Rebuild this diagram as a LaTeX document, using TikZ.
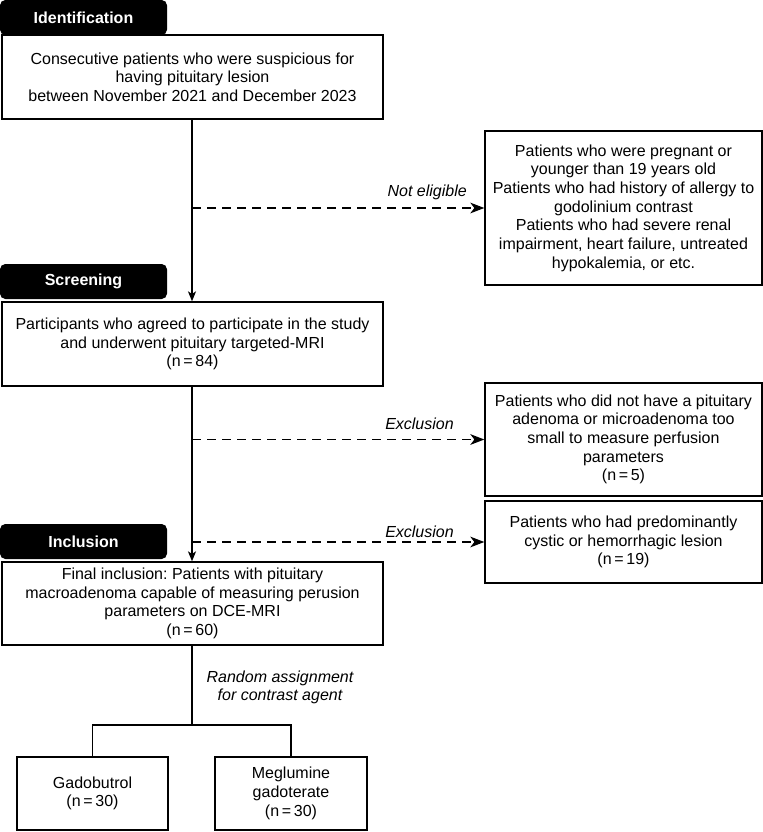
\documentclass[tikz,border=0pt]{standalone}
\usepackage{fontspec}
\setmainfont{Liberation Sans}
\frenchspacing
\usetikzlibrary{arrows.meta}
\tikzset{
  x=0.75pt, y=-0.75pt,
  every node/.style={font=\fontsize{12}{14}\selectfont, text=black},
  box/.style={draw=black, line width=1pt, fill=white, align=center, inner sep=0pt},
  tab/.style={fill=black, rounded corners=4pt, text=white, font=\fontsize{12}{14}\selectfont\bfseries, inner sep=0pt, minimum width=125.25pt, minimum height=26.25pt},
  flow/.style={line width=1pt, -{Stealth[length=7.5pt, width=6pt, inset=2pt]}},
  excl/.style={line width=1pt, dash pattern=on 6.75pt off 4.5pt, -{Stealth[length=10.5pt, width=8pt, inset=3pt]}},
  plain/.style={line width=1pt},
  lbl/.style={font=\fontsize{12}{14}\selectfont\itshape, inner sep=0pt}
}
\begin{document}
\begin{tikzpicture}
\useasboundingbox (0,0) rectangle (763,832);
% tabs
\node[tab] (t1) at (83.5,17.5) {Identification};
\node[tab] (t2) at (83.5,281.5) {Screening};
\node[tab] (t3) at (83.5,541.5) {Inclusion};
% main boxes
\node[box, minimum width=285.75pt, minimum height=63pt] (b1) at (192.5,77)
  {Consecutive patients who were suspicious for\\having pituitary lesion\\between November 2021 and December 2023};
\node[box, minimum width=285.75pt, minimum height=63pt] (b2) at (192.5,344)
  {Participants who agreed to participate in the study\\and underwent pituitary targeted-MRI\\(n\,=\,84)};
\node[box, minimum width=285.75pt, minimum height=62.25pt] (b3) at (192.5,603.5)
  {Final inclusion: Patients with pituitary\\macroadenoma capable of measuring perusion\\parameters on DCE-MRI\\(n\,=\,60)};
% right boxes
\node[box, minimum width=207.75pt, minimum height=115.5pt] (r1) at (623.5,208)
  {Patients who were pregnant or\\younger than 19 years old\\Patients who had history of allergy to\\godolinium contrast\\Patients who had severe renal\\impairment, heart failure, untreated\\hypokalemia, or etc.};
\node[box, minimum width=207.75pt, minimum height=84.75pt] (r2) at (623.5,439.5)
  {Patients who did not have a pituitary\\adenoma or microadenoma too\\small to measure perfusion\\parameters\\(n\,=\,5)};
\node[box, minimum width=207.75pt, minimum height=61.5pt] (r3) at (623.5,542)
  {Patients who had predominantly\\cystic or hemorrhagic lesion\\(n\,=\,19)};
% bottom boxes
\node[box, minimum width=113.25pt, minimum height=54.75pt] (g1) at (92.5,793.5)
  {Gadobutrol\\(n\,=\,30)};
\node[box, minimum width=114pt, minimum height=54.75pt] (g2) at (291,793.5)
  {Meglumine\\gadoterate\\(n\,=\,30)};
% main flow
\draw[flow] (b1.south -| 192,0) -- (b2.north -| 192,0);
\draw[flow] (b2.south -| 192,0) -- (b3.north -| 192,0);
% exclusions
\coordinate (e1) at (192,208);
\coordinate (e2) at (192,439.5);
\coordinate (e3) at (192,542);
\draw[excl] (e1) -- (r1.west);
\draw[excl] (e2) -- (r2.west);
\draw[excl] (e3) -- (r3.west);
\node[lbl, anchor=east] (l1) at (467,192) {Not eligible};
\node[lbl, anchor=east] (l2) at (454,424) {Exclusion};
\node[lbl, anchor=east] (l3) at (454,532) {Exclusion};
% randomisation
\coordinate (split) at (192,725);
\draw[plain] (b3.south -| split) -- (split);
\draw[plain] (split) -- (g1.north |- split) -- (g1.north);
\draw[plain] (split) -- (g2.north |- split) -- (g2.north);
\node[lbl, align=center] (rl) at (280,687.5) {Random assignment\\for contrast agent};
\end{tikzpicture}
\end{document}
